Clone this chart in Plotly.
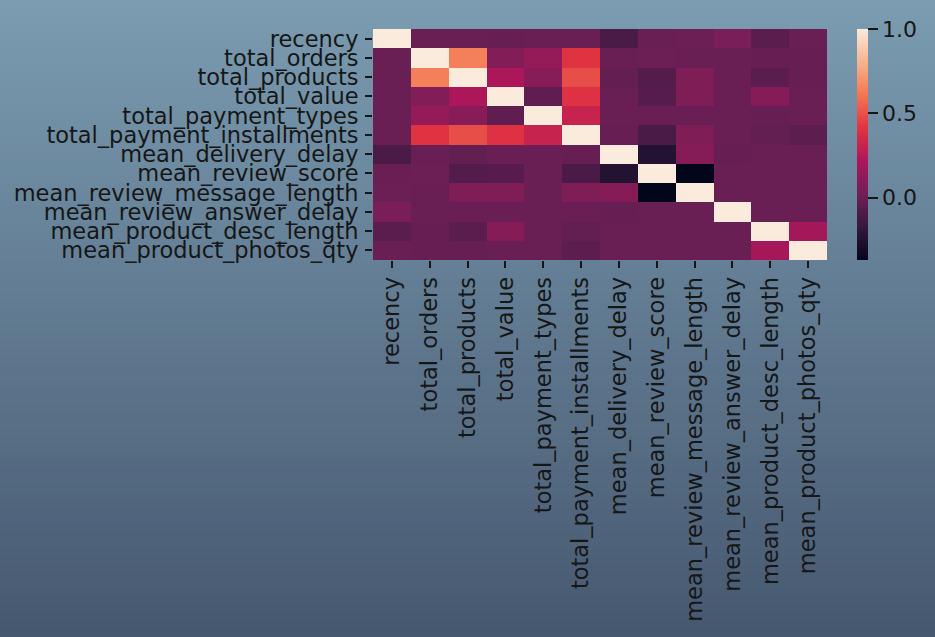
import plotly.graph_objects as go

labels = ["recency", "total_orders", "total_products", "total_value",
          "total_payment_types", "total_payment_installments",
          "mean_delivery_delay", "mean_review_score",
          "mean_review_message_length", "mean_review_answer_delay",
          "mean_product_desc_length", "mean_product_photos_qty"]

corr = [
    [1.00, 0.00, 0.00, -0.01, 0.00, 0.00, -0.10, 0.00, 0.01, 0.05, -0.05, 0.00],
    [0.00, 1.00, 0.64, 0.08, 0.14, 0.41, 0.00, 0.01, 0.00, 0.00, -0.01, -0.01],
    [0.00, 0.64, 1.00, 0.21, 0.10, 0.49, -0.02, -0.07, 0.07, 0.00, -0.05, -0.01],
    [0.00, 0.08, 0.21, 1.00, -0.03, 0.40, 0.00, -0.06, 0.07, 0.00, 0.09, 0.00],
    [0.00, 0.14, 0.10, -0.03, 1.00, 0.31, 0.00, 0.00, 0.00, 0.00, -0.01, 0.00],
    [0.00, 0.41, 0.49, 0.40, 0.31, 1.00, -0.01, -0.10, 0.07, 0.00, -0.02, -0.04],
    [-0.10, 0.00, -0.02, 0.00, 0.00, -0.01, 1.00, -0.24, 0.09, -0.01, 0.00, 0.00],
    [0.00, 0.01, -0.07, -0.06, 0.00, -0.10, -0.24, 1.00, -0.37, 0.00, 0.00, 0.00],
    [0.01, 0.00, 0.07, 0.07, 0.00, 0.07, 0.09, -0.37, 1.00, 0.00, 0.00, 0.00],
    [0.05, 0.00, 0.00, 0.00, 0.00, 0.00, -0.01, 0.00, 0.00, 1.00, 0.00, 0.00],
    [-0.05, -0.01, -0.05, 0.09, 0.00, -0.02, 0.00, 0.00, 0.00, 0.00, 1.00, 0.19],
    [0.00, -0.01, -0.01, 0.00, 0.00, -0.04, 0.00, 0.00, 0.00, 0.00, 0.19, 1.00],
]

cbar_ticks = [0.0, 0.5, 1.0]
cbar_ticktext = ["0.0", "0.5", "1.0"]

rocket = [
    [0.0, "#03051a"], [0.143, "#35193e"], [0.286, "#701f57"],
    [0.429, "#ad1759"], [0.571, "#e13342"], [0.714, "#f37651"],
    [0.857, "#f6b48f"], [1.0, "#faebdd"],
]

W, H = 935, 637
L, R, T, B = 373, 827, 29, 260
pw, ph = R - L, B - T

FONT = "DejaVu Sans"
TXT = "#161616"
FS = 22.5

fig = go.Figure(go.Heatmap(
    z=corr, x=labels, y=labels, colorscale=rocket, zmin=-0.37, zmax=1.0,
    xgap=0, ygap=0, hoverongaps=False,
    colorbar=dict(
        thickness=11, thicknessmode="pixels", len=1.0, lenmode="fraction",
        x=(857 - L) / pw, xanchor="left", y=0.5, yanchor="middle",
        xpad=0, ypad=0,
        outlinewidth=0, tickmode="array", tickvals=cbar_ticks,
        ticktext=cbar_ticktext,
        ticks="outside", ticklen=10, tickwidth=1.5,
        tickcolor=TXT, tickfont=dict(family=FONT, size=22, color=TXT),
    ),
))

# background gradient (vertical)
top = (123, 156, 177)
bot = (70, 88, 112)
nb = 80
shapes = []
for i in range(nb):
    f = (i + 0.5) / nb
    c = tuple(round(top[k] + (bot[k] - top[k]) * f) for k in range(3))
    p0 = H * i / nb - 1
    p1 = H * (i + 1) / nb + 1
    shapes.append(dict(
        type="rect", xref="paper", yref="paper", layer="below",
        x0=-(L + 30) / pw, x1=(W - L + 30) / pw,
        y0=(B - p1) / ph, y1=(B - p0) / ph,
        fillcolor="rgb(%d,%d,%d)" % c, line=dict(width=0),
    ))

fig.update_layout(
    width=W, height=H,
    margin=dict(l=L, r=W - R, t=T, b=H - B, pad=0, autoexpand=False),
    paper_bgcolor="rgb(96,122,144)", plot_bgcolor="rgba(0,0,0,0)",
    shapes=shapes,
    font=dict(family=FONT, size=FS, color=TXT),
    xaxis=dict(
        tickmode="array", tickvals=labels, ticktext=labels, tickangle=-90,
        ticks="outside", ticklen=7, tickwidth=1.5, tickcolor=TXT,
        showgrid=False, zeroline=False, showline=False,
        tickfont=dict(family=FONT, size=FS, color=TXT),
    ),
    yaxis=dict(
        tickmode="array", tickvals=labels, ticktext=labels,
        autorange="reversed", ticklabelstandoff=2,
        ticks="outside", ticklen=7, tickwidth=1.5, tickcolor=TXT,
        showgrid=False, zeroline=False, showline=False,
        tickfont=dict(family=FONT, size=FS, color=TXT),
    ),
)

fig.write_html("out.html")
